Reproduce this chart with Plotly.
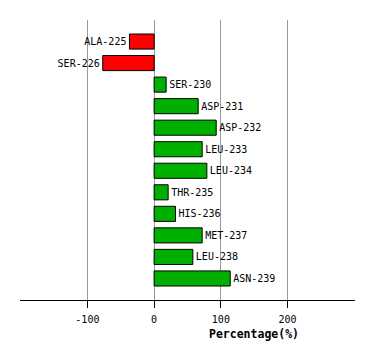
import plotly.graph_objects as go

residues = ["ALA-225", "SER-226", "SER-230", "ASP-231", "ASP-232", "LEU-233",
            "LEU-234", "THR-235", "HIS-236", "MET-237", "LEU-238", "ASN-239"]
values = [-37, -77, 18, 66, 93, 72, 79, 21, 32, 72, 58, 114]
tick_vals = [-100, 0, 100, 200]

colors = ["#FF0000" if v < 0 else "#00B000" for v in values]

fig = go.Figure()
fig.add_trace(go.Bar(
    x=values, y=residues, orientation="h",
    marker=dict(color=colors, line=dict(color="black", width=1)),
    width=0.7,
    text=residues, textposition="outside", cliponaxis=False,
    textfont=dict(family="DejaVu Sans Mono", size=10, color="black"),
    constraintext="none",
    hoverinfo="skip",
))

fig.update_layout(
    width=366, height=352,
    margin=dict(l=12, r=19, t=12, b=60),
    plot_bgcolor="white", paper_bgcolor="white",
    showlegend=False,
    font=dict(family="DejaVu Sans Mono", size=10, color="black"),
    xaxis=dict(
        range=[-201, 301], tickvals=tick_vals, ticktext=[str(t) for t in tick_vals],
        showgrid=True, gridcolor="#999999", gridwidth=1,
        zeroline=False, showline=True, linecolor="black", linewidth=1,
        ticks="outside", ticklen=7, tickcolor="black",
        ticklabelstandoff=3,
        tickfont=dict(family="DejaVu Sans Mono", size=10),
    ),
    yaxis=dict(
        type="category", categoryorder="array", categoryarray=residues,
        range=[12, -1], showticklabels=False, showgrid=False,
        zeroline=False, showline=False, ticks="",
    ),
    annotations=[dict(
        text="<b>Percentage(%)</b>", x=150, xref="x", y=-0.121, yref="paper",
        showarrow=False, xanchor="center", yanchor="middle",
        font=dict(family="DejaVu Sans Mono", size=11.5, color="black"),
    )],
)

fig.write_html("out.html")
